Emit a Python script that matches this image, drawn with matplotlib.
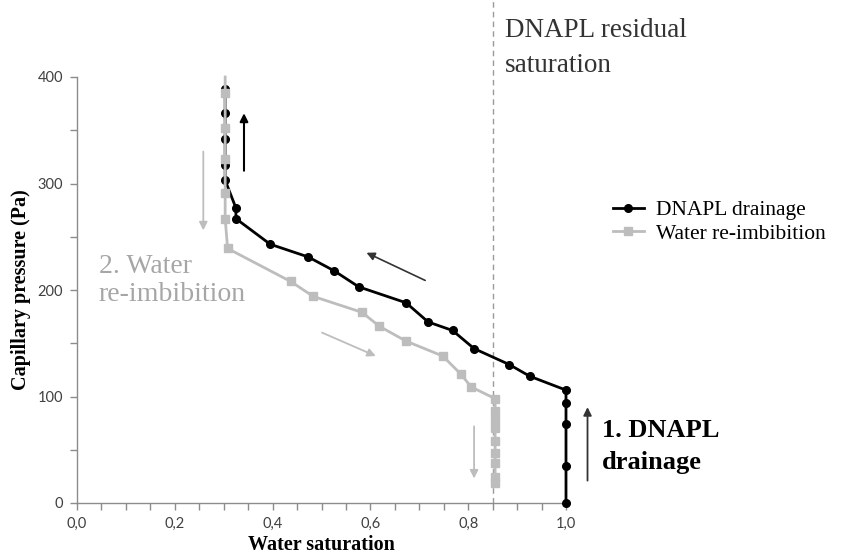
import matplotlib
matplotlib.use("Agg")
import matplotlib.pyplot as plt
from matplotlib.ticker import MultipleLocator, FuncFormatter

# ---- data ----
drain_sw = [1.0, 1.0, 1.0, 1.0, 1.0, 0.926, 0.884, 0.812, 0.768, 0.718, 0.673,
            0.576, 0.526, 0.473, 0.395, 0.325, 0.325, 0.303, 0.303, 0.303, 0.303, 0.303]
drain_pc = [0, 35, 74, 94, 106, 119, 130, 145, 162, 170, 188,
            203, 218, 231, 243, 267, 277, 303, 317, 342, 366, 389]

imb_sw = [0.303, 0.303, 0.303, 0.303, 0.303, 0.303, 0.308, 0.437, 0.483, 0.583, 0.618,
          0.673, 0.748, 0.785, 0.806, 0.855, 0.855, 0.855, 0.855, 0.855, 0.855, 0.855,
          0.855, 0.855]
imb_pc = [400, 385, 352, 323, 291, 267, 239, 208, 194, 179, 166,
          152, 138, 121, 109, 98, 86, 79, 70, 58, 47, 38, 24, 19]

residual_sw = 0.851

x_ticks = [0.0, 0.2, 0.4, 0.6, 0.8, 1.0]
y_ticks = [0, 100, 200, 300, 400]

serif = "Liberation Serif"
tickfont = "Lato"

fig = plt.figure(figsize=(8.41, 5.57), dpi=100)
ax = fig.add_axes([77/841, 1-503/557, (566-77)/841, (503-77)/557])

ax.plot(drain_sw, drain_pc, color="black", lw=2, marker="o", ms=5.5,
        label="DNAPL drainage", zorder=3, clip_on=False)
ax.plot(imb_sw, imb_pc, color="#bdbdbd", lw=2, marker="s", ms=5.5,
        markevery=list(range(1, len(imb_sw))), label="Water re-imbibition", zorder=4,
        clip_on=False)

ax.set_xlim(0, 1.0)
ax.set_ylim(0, 400)
ax.set_xticks(x_ticks)
ax.set_yticks(y_ticks)
ax.xaxis.set_minor_locator(MultipleLocator(0.05))
ax.yaxis.set_minor_locator(MultipleLocator(50))
ax.xaxis.set_major_formatter(FuncFormatter(lambda v, p: f"{v:.1f}".replace(".", ",")))

for s in ["top", "right"]:
    ax.spines[s].set_visible(False)
for s in ["left", "bottom"]:
    ax.spines[s].set_color("#8c8c8c")
    ax.spines[s].set_linewidth(1)
ax.tick_params(which="both", direction="out", color="#8c8c8c", length=5, width=1)
ax.tick_params(which="major", labelsize=10.5, labelcolor="#404040", pad=5)
for lab in ax.get_xticklabels() + ax.get_yticklabels():
    lab.set_family(tickfont)

ax.set_xlabel("Water saturation", fontfamily=serif, fontweight="bold", fontsize=14.5, labelpad=3)
ax.set_ylabel("Capillary pressure (Pa)", fontfamily=serif, fontweight="bold", fontsize=14.5, labelpad=5)

# residual saturation dashed line
ax.axvline(residual_sw, ymin=0, ymax=503/426, color="#9a9a9a", lw=1, ls=(0, (4, 3)),
           clip_on=False, zorder=1)

# arrows
def arrow(x0, y0, x1, y1, color, lw=1.2):
    ax.annotate("", xy=(x1, y1), xytext=(x0, y0),
                arrowprops=dict(arrowstyle="-|>", color=color, lw=lw,
                                mutation_scale=12, shrinkA=0, shrinkB=0),
                annotation_clip=False)

arrow(0.3415, 312, 0.3415, 366, "black", 1.5)
arrow(0.2583, 330, 0.2583, 256, "#bdbdbd", 1.3)
arrow(0.712, 209, 0.592, 235, "#333333", 1.2)
arrow(0.501, 160, 0.611, 138, "#bdbdbd", 1.3)
arrow(0.812, 72, 0.812, 23, "#bdbdbd", 1.3)
arrow(1.044, 21, 1.044, 90, "#333333", 1.3)

# texts
fig.text(505/841, 1-48/557, "DNAPL residual\nsaturation", fontfamily=serif, fontsize=19.5,
         color="#333333", va="center", ha="left", linespacing=1.5)
ax.text(0.044, 209, "2. Water\nre-imbibition", fontfamily=serif, fontsize=20,
        color="#a6a6a6", va="center", ha="left", linespacing=1.2)
ax.text(1.074, 53, "1. DNAPL\ndrainage", fontfamily=serif, fontsize=19, fontweight="bold",
        color="black", va="center", ha="left", linespacing=1.5, clip_on=False)

fig.legend(loc="center left", bbox_to_anchor=(594/841, 1-222/557), frameon=False,
           prop=dict(family=serif, size=15.5), handlelength=1.4, handletextpad=0.6,
           labelspacing=0.15)

fig.savefig("out.png", dpi=100)
